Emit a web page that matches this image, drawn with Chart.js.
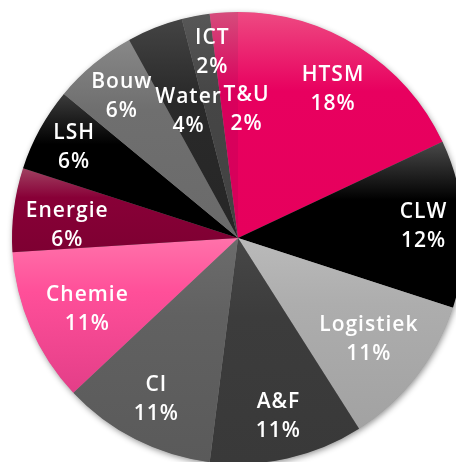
<!DOCTYPE html>
<html>
<head>
<meta charset="utf-8">
<script src="https://cdn.jsdelivr.net/npm/chart.js@4.4.1/dist/chart.umd.min.js"></script>
<style>
    html, body { margin: 0; padding: 0; background: #fff; overflow: hidden; }
    #wrap { width: 456px; height: 462px; overflow: hidden; position: relative; }
    #pie { position: absolute; left: 0; top: 0; }
</style>
</head>
<body>
<div id="wrap"><canvas id="pie" width="476" height="476"></canvas></div>
<script>
// data
const sectors = ['HTSM', 'CLW', 'Logistiek', 'A&F', 'CI', 'Chemie', 'Energie', 'LSH', 'Bouw', 'Water', 'ICT', 'T&U'];
const shares = [18, 12, 11, 11, 11, 11, 6, 6, 6, 4, 2, 2];

// slice colours: [top, base, bottom]
const fills = [
    ['#ee4a82', '#e8005f', '#e6005c'],
    ['#4a4a4a', '#000000', '#000000'],
    ['#bababa', '#adadad', '#a2a2a2'],
    ['#474747', '#3c3c3c', '#393939'],
    ['#6c6c6c', '#616161', '#5a5a5a'],
    ['#ff72aa', '#ff4f99', '#e33e88'],
    ['#a04262', '#880037', '#7e0032'],
    ['#3c3c3c', '#000000', '#000000'],
    ['#888888', '#6f6f6f', '#6a6a6a'],
    ['#444444', '#2a2a2a', '#262626'],
    ['#575757', '#464646', '#424242'],
    ['#d64c7c', '#d9005c', '#d6005a']
];

// label placement: fraction of radius, and angle shift in degrees
const labelRadius = [0.78, 0.82, 0.73, 0.81, 0.80, 0.74, 0.76, 0.83, 0.81, 0.60, 0.83, 0.57];
const labelShift = [0, 0, 0, 0, 0, -2, -3, 0, 0, 0, 2.8, 7.2];

const total = shares.reduce((a, b) => a + b, 0);

function sliceFill(context) {
    const i = context.dataIndex;
    const chart = context.chart;
    const area = chart.chartArea;
    if (!area) return fills[i][1];
    const cx = (area.left + area.right) / 2;
    const cy = (area.top + area.bottom) / 2;
    const r = Math.min(area.right - area.left, area.bottom - area.top) / 2;
    let before = 0;
    for (let k = 0; k < i; k++) before += shares[k];
    const a0 = -Math.PI / 2 + 2 * Math.PI * before / total;
    const a1 = a0 + 2 * Math.PI * shares[i] / total;
    let ys = [cy, cy + r * Math.sin(a0), cy + r * Math.sin(a1)];
    // top / bottom of circle inside the slice?
    [-Math.PI / 2, Math.PI / 2, 3 * Math.PI / 2].forEach(a => {
        if (a > a0 && a < a1) ys.push(cy + r * Math.sin(a));
    });
    const top = Math.min(...ys);
    const bottom = Math.max(...ys);
    const g = chart.ctx.createLinearGradient(0, top, 0, bottom);
    g.addColorStop(0, fills[i][0]);
    g.addColorStop(0.35, fills[i][1]);
    g.addColorStop(1, fills[i][2]);
    return g;
}

// soft shadow under the pie
const shadowPlugin = {
    id: 'shadowPlugin',
    beforeDatasetsDraw(chart) {
        const arc = chart.getDatasetMeta(0).data[0];
        if (!arc) return;
        const ctx = chart.ctx;
        ctx.save();
        ctx.shadowColor = 'rgba(0,0,0,0.45)';
        ctx.shadowBlur = 6;
        ctx.shadowOffsetX = 1;
        ctx.shadowOffsetY = 2;
        ctx.fillStyle = '#888';
        ctx.beginPath();
        ctx.arc(arc.x, arc.y, arc.outerRadius - 0.5, 0, Math.PI * 2);
        ctx.fill();
        ctx.restore();
    }
};

// two-line labels inside the slices
const labelPlugin = {
    id: 'labelPlugin',
    afterDatasetsDraw(chart) {
        const ctx = chart.ctx;
        const meta = chart.getDatasetMeta(0);
        const spacing = 1;
        ctx.save();
        ctx.fillStyle = '#fff';
        ctx.font = '600 21px "Open Sans"';
        ctx.letterSpacing = spacing + 'px';
        ctx.textAlign = 'center';
        ctx.textBaseline = 'middle';
        meta.data.forEach((arc, i) => {
            const mid = (arc.startAngle + arc.endAngle) / 2 + labelShift[i] * Math.PI / 180;
            const rr = arc.outerRadius * labelRadius[i];
            const x = arc.x + Math.cos(mid) * rr + spacing / 2;
            const y = arc.y + Math.sin(mid) * rr;
            const pct = Math.round(shares[i] / total * 100) + '%';
            ctx.fillText(sectors[i], x, y - 14.5);
            ctx.fillText(pct, x, y + 14.5);
        });
        ctx.restore();
    }
};

new Chart(document.getElementById('pie').getContext('2d'), {
    type: 'pie',
    data: {
        labels: sectors,
        datasets: [{
            data: shares,
            backgroundColor: sliceFill,
            borderWidth: 0
        }]
    },
    options: {
        responsive: false,
        animation: false,
        layout: { padding: 12 },
        plugins: {
            legend: { display: false },
            tooltip: { enabled: false }
        }
    },
    plugins: [shadowPlugin, labelPlugin]
});
</script>
</body>
</html>
